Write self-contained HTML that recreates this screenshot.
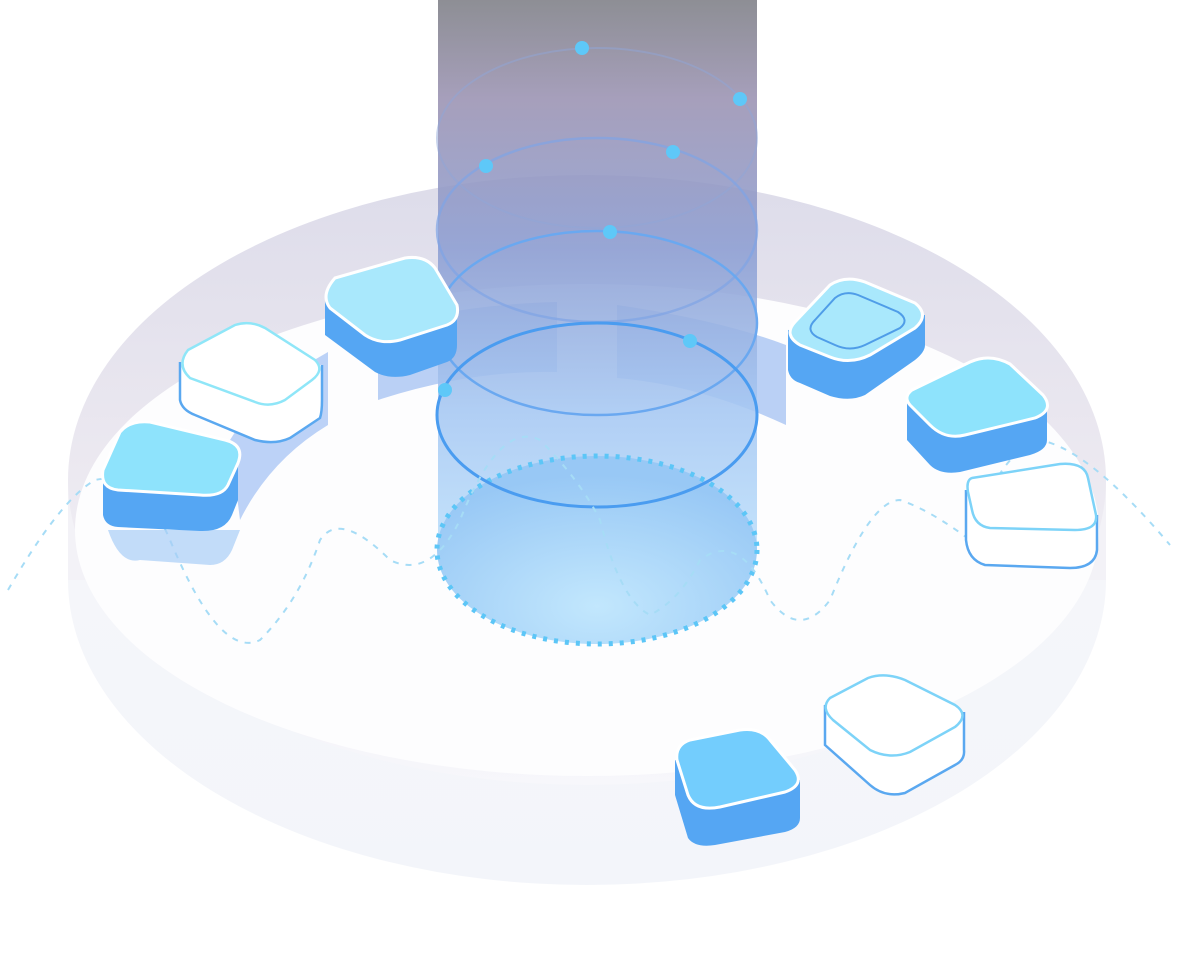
<!DOCTYPE html>
<html><head><meta charset="utf-8"><style>html,body{margin:0;padding:0;background:#fff}svg{display:block}</style></head>
<body>
<svg width="1200" height="966" viewBox="0 0 1200 966" xmlns="http://www.w3.org/2000/svg">
<defs>
<linearGradient id="wall" x1="0" y1="0" x2="0" y2="1">
<stop offset="0" stop-color="#dddcea"/><stop offset="0.45" stop-color="#ebe8f0"/><stop offset="1" stop-color="#f7f7fb"/>
</linearGradient>
<linearGradient id="col" x1="0" y1="0" x2="0" y2="1">
<stop offset="0" stop-color="#7e7f86"/><stop offset="0.18" stop-color="#9a92b2"/><stop offset="0.45" stop-color="#8d9ed2"/><stop offset="0.75" stop-color="#a6c8f3"/><stop offset="1" stop-color="#bcdffb"/>
</linearGradient>
<radialGradient id="base" cx="0.5" cy="0.8" r="0.7">
<stop offset="0" stop-color="#c2e7fd"/><stop offset="1" stop-color="#98c8f5"/>
</radialGradient>
<linearGradient id="bot" x1="0" y1="0" x2="0" y2="1">
<stop offset="0" stop-color="#f7f7fa"/><stop offset="1" stop-color="#f3f5fa"/>
</linearGradient>
</defs>
<ellipse cx="587" cy="580" rx="519" ry="305" fill="url(#bot)"/>
<rect x="68" y="480" width="1038" height="100" fill="#f3f2f7"/>
<ellipse cx="587" cy="480" rx="519" ry="305" fill="url(#wall)"/>
<ellipse cx="587" cy="530" rx="512" ry="246" fill="#fdfdfe"/>
<path d="M378 400 Q470 370 557 372 L557 302 Q450 305 378 330 Z" fill="#b2cbf4" opacity="0.9"/>
<path d="M617 305 Q720 320 786 345 L786 425 Q700 385 617 378 Z" fill="#b2cbf4" opacity="0.9"/>
<path d="M328 352 Q260 390 230 440 L240 520 Q270 460 328 425 Z" fill="#bcd2f7"/>
<rect x="438" y="0" width="319" height="550" fill="url(#col)" opacity="0.88"/>
<ellipse cx="597" cy="550" rx="160" ry="94" fill="url(#base)"/>
<ellipse cx="597" cy="550" rx="160" ry="94" fill="none" stroke="#5cc6f7" stroke-width="5" stroke-dasharray="4 7"/>
<ellipse cx="597" cy="138" rx="160" ry="90" fill="none" stroke="#8fa6d8" stroke-width="2" opacity="0.5"/>
<ellipse cx="597" cy="230" rx="160" ry="92" fill="none" stroke="#7fa4e6" stroke-width="2.5" opacity="0.7"/>
<ellipse cx="597" cy="323" rx="160" ry="92" fill="none" stroke="#6aa8f0" stroke-width="2.5"/>
<ellipse cx="597" cy="415" rx="160" ry="92" fill="none" stroke="#4a9cf0" stroke-width="3"/>
<path d="M8 590 Q60 500 95 480 Q140 470 170 540 Q220 660 260 640 Q300 600 320 540 Q340 510 390 560 Q430 580 460 520 Q500 420 540 440 Q580 480 600 520 Q620 600 650 615 Q680 600 700 560 Q740 530 770 600 Q800 640 830 600 Q870 500 900 500 Q930 510 970 540 Q1000 450 1040 440 Q1090 450 1170 545" fill="none" stroke="#a6dcf6" stroke-width="2" stroke-dasharray="6 7"/>
<g fill="#5ec8f8">
<circle cx="582" cy="48" r="7"/><circle cx="740" cy="99" r="7"/><circle cx="486" cy="166" r="7"/><circle cx="673" cy="152" r="7"/><circle cx="610" cy="232" r="7"/><circle cx="690" cy="341" r="7"/><circle cx="445" cy="390" r="7"/>
</g>
<path d="M325 295 L325 335 L375 372 Q390 380 410 375 L447 362 Q457 358 457 345 L457 310 Z" fill="#55a6f3"/>
<path d="M335 278 L405 258 Q425 255 435 268 L457 305 Q460 320 447 325 L400 340 Q380 345 365 335 L330 308 Q320 295 335 278 Z" fill="#a9e8fc" stroke="#fff" stroke-width="3"/>
<path d="M180 362 L180 400 Q182 410 195 415 L255 440 Q275 445 290 438 L320 418 Q322 412 322 400 L322 365" fill="#fff" stroke="#5aa8f0" stroke-width="2.5"/>
<path d="M188 350 L235 325 Q250 320 265 328 L315 360 Q325 370 312 380 L285 400 Q270 408 255 402 L190 378 Q176 365 188 350 Z" fill="#fff" stroke="#8fe6f8" stroke-width="2.5"/>
<path d="M108 530 Q120 565 140 560 L210 565 Q225 565 232 550 L240 530" fill="#a8cdf7" opacity="0.7"/>
<path d="M103 470 L103 515 Q105 526 118 527 L200 531 Q225 532 232 515 L238 500 L238 455 Z" fill="#55a6f3"/>
<path d="M120 432 Q130 420 150 422 L225 440 Q245 445 238 463 L228 485 Q222 497 200 495 L118 490 Q100 488 103 470 Z" fill="#8ee3fc" stroke="#fff" stroke-width="3"/>
<path d="M788 330 L788 370 Q790 380 800 383 L830 396 Q850 402 865 395 L915 360 Q925 352 925 345 L925 315 Z" fill="#55a6f3"/>
<path d="M795 322 L830 285 Q845 275 865 282 L915 303 Q930 315 915 328 L870 355 Q850 365 830 357 L800 345 Q783 335 795 322 Z" fill="#a9e8fc" stroke="#fff" stroke-width="3"/>
<path d="M815 320 L835 298 Q845 290 858 295 L898 312 Q910 320 900 328 L865 345 Q850 352 835 345 L817 337 Q805 330 815 320 Z" fill="none" stroke="#4f9de8" stroke-width="2"/>
<path d="M907 400 L907 440 L930 465 Q940 475 960 472 L1030 455 Q1047 450 1047 440 L1047 405 Z" fill="#55a6f3"/>
<path d="M912 390 L970 362 Q990 353 1010 364 L1043 395 Q1055 410 1035 418 L965 435 Q945 440 930 425 L910 405 Q903 397 912 390 Z" fill="#8ee3fc" stroke="#fff" stroke-width="3"/>
<path d="M966 490 L966 540 Q968 560 985 565 L1070 568 Q1095 568 1097 550 L1097 515" fill="#fff" stroke="#5aa8f0" stroke-width="2.5"/>
<path d="M972 478 L1060 464 Q1085 462 1088 478 L1096 515 Q1098 530 1075 530 L990 528 Q975 526 972 510 L968 492 Q966 480 972 478 Z" fill="#fff" stroke="#7dd3f8" stroke-width="2.5"/>
<path d="M825 705 L825 745 L870 785 Q885 798 905 793 L955 765 Q965 760 964 750 L964 712" fill="#fff" stroke="#5aa8f0" stroke-width="2.5"/>
<path d="M830 698 L868 678 Q885 672 905 680 L955 705 Q970 715 955 727 L910 752 Q890 760 870 750 L833 720 Q820 708 830 698 Z" fill="#fff" stroke="#7dd3f8" stroke-width="2.5"/>
<path d="M675 760 L675 795 L688 838 Q695 848 715 845 L785 832 Q800 828 800 818 L800 780 Z" fill="#55a6f3"/>
<path d="M690 740 L740 730 Q760 727 770 740 L795 770 Q805 785 785 792 L720 807 Q695 812 688 795 L677 760 Q675 745 690 740 Z" fill="#73cdfd" stroke="#fff" stroke-width="3"/>
</svg>
</body></html>
